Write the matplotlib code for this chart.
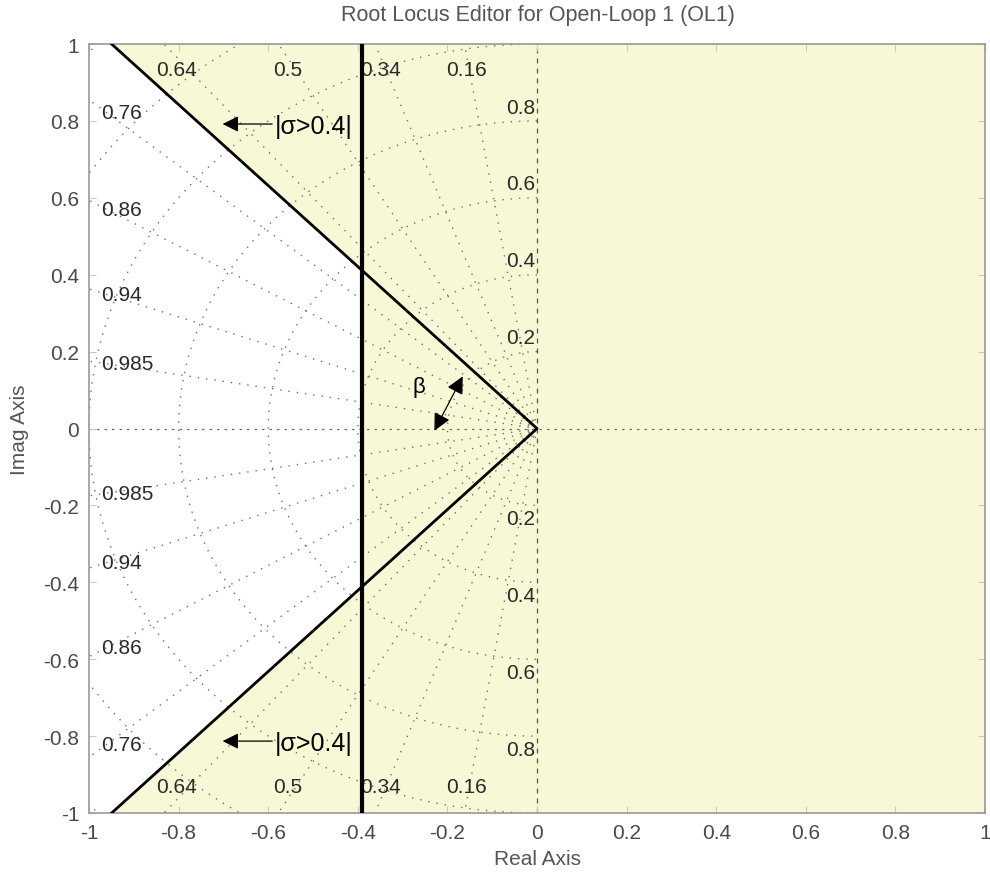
import numpy as np
import matplotlib
matplotlib.use("Agg")
import matplotlib.pyplot as plt

# sgrid values
zetas = [0.16, 0.34, 0.5, 0.64, 0.76, 0.86, 0.94, 0.985]
top_zetas = ["0.64", "0.5", "0.34", "0.16"]
left_zetas = ["0.76", "0.86", "0.94", "0.985"]
wns = [0.2, 0.4, 0.6, 0.8, 1.0, 1.2, 1.4]
wn_labels = [0.2, 0.4, 0.6, 0.8]

# design constraint
sigma_min = -0.391      # vertical boundary
corner_x = -0.9495      # where the damping boundary leaves the axes at |y|=1

ticks = [-1, -0.8, -0.6, -0.4, -0.2, 0, 0.2, 0.4, 0.6, 0.8, 1]
tick_labels = ["-1", "-0.8", "-0.6", "-0.4", "-0.2", "0", "0.2", "0.4", "0.6", "0.8", "1"]

plt.rcParams['font.family'] = ['Liberation Sans', 'DejaVu Sans']

fig = plt.figure(figsize=(9.9, 8.78), dpi=100)
ax = fig.add_axes([0.0899, 0.0729, 0.9051, 0.8758])
ax.set_xlim(-1, 1)
ax.set_ylim(-1, 1)
ax.set_facecolor('#f9f8d6')

slope = 1.0 / abs(corner_x)
y_cut = slope * abs(sigma_min)

# white admissible region
ax.fill([-1, corner_x, sigma_min, sigma_min, corner_x, -1],
        [1, 1, y_cut, -y_cut, -1, -1], color='white', zorder=0.5, lw=0)

gcol = '#6e6e6e'
# damping rays
for z in zetas:
    th = np.arccos(z)
    r = np.linspace(0, 1.5, 2)
    for s in (1, -1):
        ax.plot(-r * np.cos(th), s * r * np.sin(th), ls=(0, (1, 5)), color=gcol, lw=1.0, zorder=1)
# natural frequency circles
for w in wns:
    t = np.linspace(np.pi / 2, 3 * np.pi / 2, 300)
    ax.plot(w * np.cos(t), w * np.sin(t), ls=(0, (1, 5)), color=gcol, lw=1.0, zorder=1)
ax.axhline(0, ls=(0, (2, 4)), color=gcol, lw=0.9, zorder=1)
ax.axvline(0, ls=(0, (4, 4)), color='#555555', lw=0.9, zorder=1)

# labels for damping rays
lab_col = '#2a2a2a'
fs_lab = 15
for lab in top_zetas:
    z = float(lab)
    th = np.arccos(z)
    x = -0.965 * np.cos(th) / np.sin(th)
    ax.text(x, 0.935, lab, ha='center', va='center', fontsize=fs_lab, color=lab_col, zorder=2)
    ax.text(x, -0.932, lab, ha='center', va='center', fontsize=fs_lab, color=lab_col, zorder=2)
for lab in left_zetas:
    z = float(lab)
    th = np.arccos(z)
    y = 0.96 * np.tan(th)
    ax.text(-0.972, y, lab, ha='left', va='center', fontsize=fs_lab, color=lab_col, zorder=2)
    ax.text(-0.972, -y, lab, ha='left', va='center', fontsize=fs_lab, color=lab_col, zorder=2)
for w in wn_labels:
    ax.text(-0.005, w + 0.036, f"{w:g}", ha='right', va='center', fontsize=fs_lab, color=lab_col, zorder=2)
    ax.text(-0.005, -w - 0.035, f"{w:g}", ha='right', va='center', fontsize=fs_lab, color=lab_col, zorder=2)

# constraint boundaries
ax.plot([corner_x, 0, corner_x], [1, 0, -1], color='black', lw=2.0, zorder=3)
ax.plot([sigma_min, sigma_min], [-1, 1], color='black', lw=3.0, zorder=3)

# annotations
for yy in (0.792, -0.813):
    ax.annotate('', xy=(-0.708, yy), xytext=(-0.585, yy),
                arrowprops=dict(arrowstyle='-|>', color='black', lw=0.9,
                                mutation_scale=24), zorder=4)
    ax.text(-0.585, yy - 0.005, '|σ>0.4|', ha='left', va='center', fontsize=18,
            color='black', zorder=4)
ax.annotate('', xy=(-0.163, 0.142), xytext=(-0.232, -0.012),
            arrowprops=dict(arrowstyle='<|-|>', color='black', lw=0.9, mutation_scale=26), zorder=4)
ax.text(-0.263, 0.108, 'β', ha='center', va='center', fontsize=16, color='black', zorder=4)

ax.set_xticks(ticks)
ax.set_xticklabels(tick_labels)
ax.set_yticks(ticks)
ax.set_yticklabels(tick_labels)
ax.tick_params(direction='in', length=5, width=0.8, color='#c8c8c8',
               labelsize=15, labelcolor='#4a4a4a', top=True, right=True, pad=7)
for sp in ax.spines.values():
    sp.set_color('#999999')
    sp.set_linewidth(1.2)

ax.set_xlabel('Real Axis', fontsize=15, color='#555555', labelpad=5)
ax.set_ylabel('Imag Axis', fontsize=15, color='#555555', labelpad=10)
fig.text(0.5435, 1 - 15 / 878, 'Root Locus Editor for Open-Loop 1 (OL1)', ha='center', va='center',
         fontsize=15.5, color='#555555')

fig.savefig('out.png', dpi=100)
